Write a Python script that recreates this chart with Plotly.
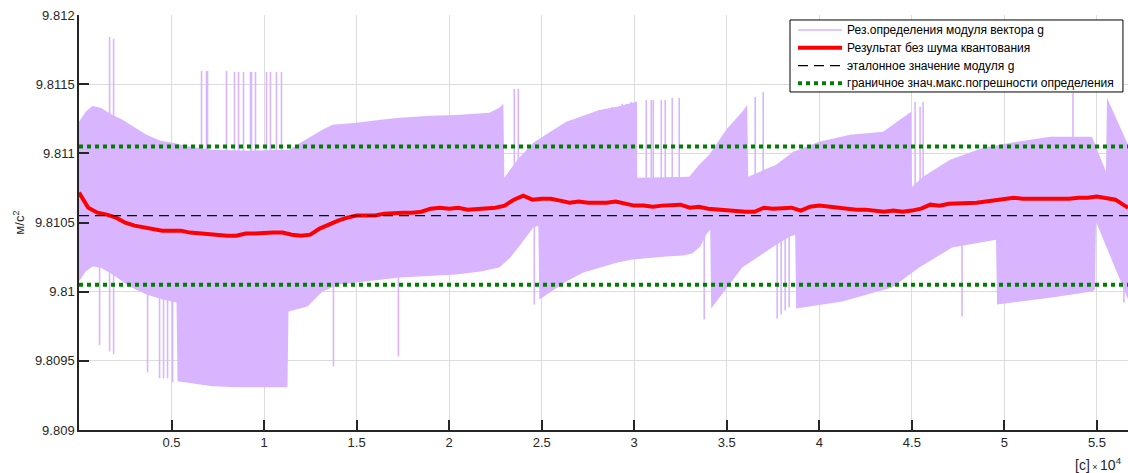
import plotly.graph_objects as go

# ---------------- data ----------------
t_start, t_end = 0, 56680          # time, s
g_ref = 9.81055                    # reference |g|, m/s^2
g_tol = 0.0005                     # max error bound

# envelope of the quantised |g| estimate (upper edge)
up_t = [0, 356, 734, 1166, 1814, 2354, 3056, 3650, 4406, 5054,
        6026, 7214, 9266, 11372, 11966, 13154, 13694, 14990, 16286, 17312,
        18986, 20390, 22172, 22712, 22928, 22982, 23684, 24548, 25466, 26330,
        27248, 28112, 29084, 29894, 30110, 30164, 32972, 33512, 34052, 34970,
        35834, 36104, 36158, 37670, 38588, 39992, 41666, 43448, 44366, 44744,
        44960, 45014, 45608, 47066, 48848, 50684, 52466, 54734, 55490, 55544,
        56192, 56680]
up_g = [9.811228, 9.811300, 9.811343, 9.811329, 9.811278, 9.811242, 9.811184, 9.811134, 9.811091, 9.811076,
        9.811047, 9.811026, 9.811019, 9.811026, 9.811076, 9.811170, 9.811206, 9.811221, 9.811242, 9.811257,
        9.811271, 9.811278, 9.811293, 9.811329, 9.811358, 9.810824, 9.810954, 9.811076, 9.811156, 9.811228,
        9.811271, 9.811314, 9.811336, 9.811365, 9.811372, 9.810824, 9.810831, 9.810918, 9.810990, 9.811170,
        9.811300, 9.811350, 9.810831, 9.810918, 9.811011, 9.811083, 9.811134, 9.811156, 9.811242, 9.811278,
        9.811300, 9.810759, 9.810831, 9.810954, 9.811040, 9.811083, 9.811120, 9.811120, 9.810867, 9.811401,
        9.811206, 9.811062]

# envelope of the quantised |g| estimate (lower edge)
lo_t = [0, 356, 734, 1166, 1814, 2732, 3650, 4514, 5270, 5324,
        6350, 7214, 8510, 11264, 11318, 12344, 13154, 14072, 17312, 20390,
        21686, 22712, 23306, 23846, 24548, 24818, 24872, 26330, 27248, 28112,
        29084, 29894, 31730, 32648, 33134, 33566, 33890, 34106, 34160, 35834,
        36266, 37670, 38426, 38696, 38750, 41234, 43934, 45392, 47174, 49010,
        49550, 49604, 52574, 54734, 54896, 54950, 56354, 56680]
lo_g = [9.810073, 9.810146, 9.810182, 9.810174, 9.810124, 9.810037, 9.809980, 9.809943, 9.809922, 9.809352,
        9.809330, 9.809316, 9.809309, 9.809309, 9.809857, 9.809893, 9.810001, 9.810052, 9.810102, 9.810124,
        9.810146, 9.810174, 9.810247, 9.810340, 9.810463, 9.810477, 9.809943, 9.810073, 9.810138, 9.810174,
        9.810210, 9.810232, 9.810254, 9.810261, 9.810275, 9.810326, 9.810412, 9.810449, 9.809879, 9.810174,
        9.810218, 9.810340, 9.810398, 9.810412, 9.809879, 9.809929, 9.810030, 9.810174, 9.810319, 9.810362,
        9.810376, 9.809907, 9.809958, 9.810001, 9.810016, 9.810506, 9.810052, 9.809943]

# isolated outliers (spikes) of the quantised estimate
spike_up_t = [1652, 1868, 6620, 6890, 6944, 7970, 8402, 8618, 8888, 9266,
              9320, 9536, 10130, 10346, 10670, 10940, 23522, 23738, 28814, 29354,
              29570, 29840, 30110, 30650, 30920, 31028, 31460, 31676, 32054, 32432,
              36536, 36968, 45176, 45446, 45608, 53708]
spike_up_g = [9.811841, 9.811827, 9.811596, 9.811596, 9.811596, 9.811596, 9.811589, 9.811589, 9.811589, 9.811589,
              9.811589, 9.811589, 9.811589, 9.811589, 9.811589, 9.811589, 9.811466, 9.811466, 9.811336, 9.811358,
              9.811358, 9.811372, 9.811372, 9.811386, 9.811386, 9.811386, 9.811386, 9.811386, 9.811401, 9.811401,
              9.811408, 9.811444, 9.811372, 9.811336, 9.811372, 9.811437]
spike_dn_t = [1112, 1652, 1868, 3704, 4352, 4568, 4784, 5054, 13748, 17258,
              24602, 33782, 37724, 37940, 38156, 38372, 47714, 56462]
spike_dn_g = [9.809612, 9.809568, 9.809547, 9.809417, 9.809374, 9.809374, 9.809374, 9.809345, 9.809460, 9.809532,
              9.809907, 9.809799, 9.809806, 9.809835, 9.809864, 9.809886, 9.809821, 9.809922]

# result without quantisation noise, sampled every 500 s
red_t = list(range(0, 56501, 500)) + [56680]
red_g = [9.810716, 9.810607, 9.810571, 9.810557, 9.810535, 9.810499, 9.810477, 9.810463, 9.810449, 9.810441,
         9.810441, 9.810441, 9.810427, 9.810420, 9.810412, 9.810405, 9.810405, 9.810405, 9.810420, 9.810420,
         9.810427, 9.810427, 9.810427, 9.810412, 9.810405, 9.810412, 9.810456, 9.810485, 9.810513, 9.810535,
         9.810550, 9.810550, 9.810550, 9.810564, 9.810571, 9.810571, 9.810571, 9.810578, 9.810600, 9.810607,
         9.810600, 9.810607, 9.810593, 9.810600, 9.810600, 9.810607, 9.810622, 9.810665, 9.810694, 9.810665,
         9.810672, 9.810672, 9.810658, 9.810643, 9.810651, 9.810643, 9.810643, 9.810643, 9.810651, 9.810636,
         9.810622, 9.810622, 9.810614, 9.810622, 9.810622, 9.810629, 9.810607, 9.810614, 9.810600, 9.810593,
         9.810586, 9.810586, 9.810578, 9.810578, 9.810607, 9.810600, 9.810607, 9.810607, 9.810586, 9.810614,
         9.810622, 9.810614, 9.810607, 9.810600, 9.810593, 9.810593, 9.810586, 9.810578, 9.810586, 9.810578,
         9.810586, 9.810600, 9.810629, 9.810622, 9.810636, 9.810636, 9.810643, 9.810643, 9.810651, 9.810658,
         9.810665, 9.810679, 9.810672, 9.810672, 9.810665, 9.810665, 9.810672, 9.810672, 9.810679, 9.810679,
         9.810687, 9.810679, 9.810665, 9.810622, 9.810607]

x_tickvals = [5000, 10000, 15000, 20000, 25000, 30000, 35000, 40000, 45000, 50000, 55000]
x_ticktext = ['0.5', '1', '1.5', '2', '2.5', '3', '3.5', '4', '4.5', '5', '5.5']
y_tickvals = [9.809, 9.8095, 9.81, 9.8105, 9.811, 9.8115, 9.812]
y_ticktext = ['9.809', '9.8095', '9.81', '9.8105', '9.811', '9.8115', '9.812']

names = ['Рез.определения модуля вектора g',
         'Результат без шума квантования',
         'эталонное значение модуля g',
         'граничное знач.макс.погрешности определения']

# ---------------- figure ----------------
PURPLE = 'rgb(217,181,255)'
RED = '#ff0000'
GREEN = 'rgb(0,128,0)'
AX = '#262626'
FONT = 'Liberation Sans, Arial, Helvetica, sans-serif'

styles = [dict(color=PURPLE, width=1.6),
          dict(color=RED, width=4),
          dict(color='black', width=1.2, dash='10px,6px'),
          dict(color=GREEN, width=4, dash='dot')]

fig = go.Figure()

fig.add_trace(go.Scatter(
    x=up_t + lo_t[::-1], y=up_g + lo_g[::-1],
    mode='lines', fill='toself', fillcolor=PURPLE,
    line=dict(width=0, color=PURPLE), showlegend=False, hoverinfo='skip'))

sx, sy = [], []
for t, g in zip(spike_up_t + spike_dn_t, spike_up_g + spike_dn_g):
    sx += [t, t, None]
    sy += [g_ref, g, None]
fig.add_trace(go.Scatter(x=sx, y=sy, mode='lines', line=styles[0],
                         name=names[0], showlegend=False))

fig.add_trace(go.Scatter(x=red_t, y=red_g, mode='lines', line=styles[1],
                         name=names[1], showlegend=False))

fig.add_trace(go.Scatter(x=[t_start, t_end], y=[g_ref, g_ref], mode='lines',
                         line=styles[2], name=names[2], showlegend=False))

fig.add_trace(go.Scatter(
    x=[t_start, t_end, None, t_start, t_end],
    y=[g_ref + g_tol, g_ref + g_tol, None, g_ref - g_tol, g_ref - g_tol],
    mode='lines', line=styles[3], name=names[3], showlegend=False))

axis_common = dict(
    showline=True, linecolor=AX, linewidth=1.5,
    ticks='inside', ticklen=10, tickwidth=1.5, tickcolor=AX,
    showgrid=True, gridcolor='#dcdcdc', gridwidth=1,
    zeroline=False, tickfont=dict(family=FONT, size=13, color=AX))

fig.update_xaxes(range=[t_start, t_end], tickvals=x_tickvals, ticktext=x_ticktext, **axis_common)
fig.update_yaxes(range=[9.809, 9.812], tickvals=y_tickvals, ticktext=y_ticktext, **axis_common)

# legend box (drawn in paper coordinates, compact like the original)
shapes = [dict(type='rect', xref='paper', yref='paper',
               x0=0.6778, x1=0.9952, y0=0.8145, y1=0.9880,
               fillcolor='white', line=dict(color='black', width=1), layer='above')]
annotations = []
row_y = [0.9639, 0.9212, 0.8778, 0.8354]
for name, st, yy in zip(names, styles, row_y):
    shapes.append(dict(type='line', xref='paper', yref='paper',
                       x0=0.6854, x1=0.7274, y0=yy, y1=yy, line=st, layer='above'))
    annotations.append(dict(text=name, xref='paper', yref='paper', x=0.7302, y=yy,
                            xanchor='left', yanchor='middle', showarrow=False,
                            font=dict(family=FONT, size=12, color='black')))

annotations += [
    dict(text='м/с<sup>2</sup>', xref='paper', yref='paper',
         x=-0.058, y=0.5, xanchor='center', yanchor='middle',
         textangle=-90, showarrow=False, font=dict(family=FONT, size=13, color=AX)),
    dict(text="[с]<span style='font-size:9px'> × </span>10<sup>4</sup>",
         xref='paper', yref='paper', x=0.9962, y=-0.082,
         xanchor='right', yanchor='middle', showarrow=False,
         font=dict(family=FONT, size=14, color=AX)),
]

fig.update_layout(
    width=1128, height=473,
    margin=dict(l=79, r=0, t=15, b=43),
    paper_bgcolor='white', plot_bgcolor='white',
    font=dict(family=FONT, size=12, color=AX),
    showlegend=False,
    shapes=shapes, annotations=annotations)

fig.write_html("out.html")
